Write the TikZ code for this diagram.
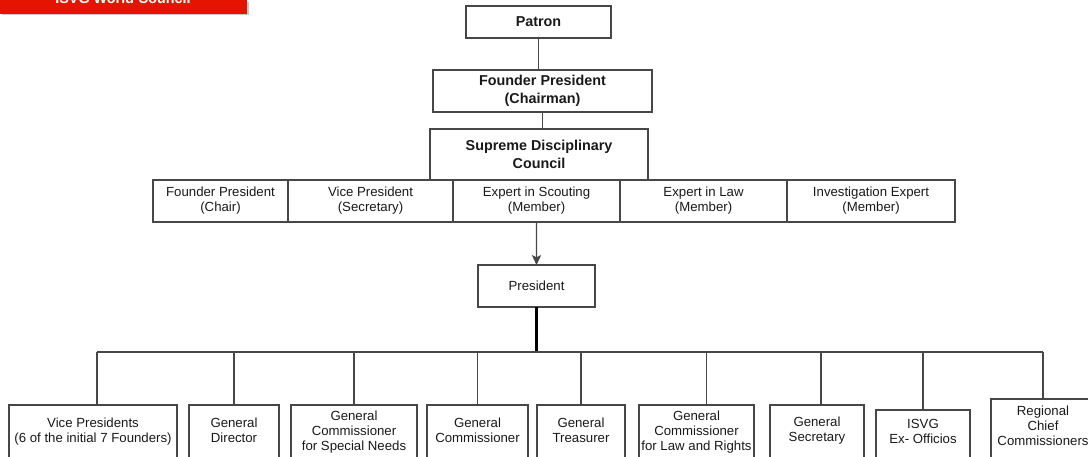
\documentclass[tikz,border=0pt]{standalone}
\usepackage{fontspec}
\setmainfont{Liberation Sans}
\usetikzlibrary{arrows.meta}
\definecolor{banner}{HTML}{E51400}
\definecolor{edge}{HTML}{474747}

\begin{document}
\begin{tikzpicture}[x=0.025cm,y=-0.025cm]

\tikzstyle{post}=[draw=edge,line width=0.8pt,inner sep=1pt,outer sep=0pt,align=center,anchor=north west,text=black!90,font=\fontsize{9.4}{10.7}\selectfont]
\tikzstyle{head}=[post,font=\fontsize{10.2}{12.8}\selectfont\bfseries]
\tikzstyle{link}=[draw=edge,line width=0.8pt]

% FRAME
\useasboundingbox (0,0) rectangle (1088,457);

% BANNER
\fill [gray!45] (2,2) rectangle (249,15);
\node (banner) [fill=banner,anchor=north west,minimum width=6.175cm,minimum height=0.35cm,inner sep=0pt,outer sep=0pt] at (0,0) {};
\node (title) [anchor=base,text=white,font=\fontsize{10.2}{12}\selectfont\bfseries] at (123,4) {ISVG World Council};

% TOP
\node (patron) [head,minimum width=3.625cm,minimum height=0.8cm] at (466,6) {Patron};
\node (founder) [head,minimum width=5.475cm,minimum height=1.05cm] at (433,70) {Founder President\\(Chairman)};
\node (supreme) [head,minimum width=5.45cm,minimum height=1.275cm] at (430,129) {Supreme Disciplinary\\Council};

% COUNCIL ROW
\node (chair) [post,minimum width=3.375cm,minimum height=1.05cm] at (153,180) {Founder President\\(Chair)};
\node (secretary) [post,minimum width=4.125cm,minimum height=1.05cm] at (288,180) {Vice President\\(Secretary)};
\node (scouting) [post,minimum width=4.175cm,minimum height=1.05cm] at (453,180) {Expert in Scouting\\(Member)};
\node (law) [post,minimum width=4.175cm,minimum height=1.05cm] at (620,180) {Expert in Law\\(Member)};
\node (investigation) [post,minimum width=4.2cm,minimum height=1.05cm] at (787,180) {Investigation Expert\\(Member)};

% PRESIDENT
\node (president) [post,minimum width=2.925cm,minimum height=1.05cm] at (478,265) {President};

% DEPARTMENTS (boxes run on below the frame)
\node (vice) [post,minimum width=4.2cm,minimum height=1.45cm,text depth=5pt] at (9,405) {Vice Presidents\\(6 of the initial 7 Founders)};
\node (director) [post,minimum width=2.25cm,minimum height=1.45cm,text depth=5pt] at (189,405) {General\\Director};
\node (special) [post,minimum width=3.15cm,minimum height=1.45cm,text depth=5pt] at (291,405) {General\\Commissioner\\for Special Needs};
\node (commissioner) [post,minimum width=2.525cm,minimum height=1.45cm,text depth=5pt] at (427,405) {General\\Commissioner};
\node (treasurer) [post,minimum width=2.2cm,minimum height=1.45cm,text depth=5pt] at (537,405) {General\\Treasurer};
\node (rights) [post,minimum width=2.875cm,minimum height=1.45cm,text depth=5pt] at (639,405) {General\\Commissioner\\for Law and Rights};
\node (gensec) [post,minimum width=2.35cm,minimum height=1.45cm,text depth=7pt] at (770,405) {General\\Secretary};
\node (officios) [post,minimum width=2.35cm,minimum height=1.35cm,text depth=8pt] at (876,410) {ISVG\\Ex- Officios};
\node (regional) [post,minimum width=2.6cm,minimum height=1.6cm,text depth=8pt] at (991,399) {Regional\\Chief\\Commissioners};

% LINKS
\draw [link] (patron.south) -- (patron.south |- founder.north);
\draw [link] (founder.south) -- (founder.south |- supreme.north);
\draw [link,-{Stealth[length=7pt,width=6.5pt,inset=1.5pt]}] (scouting.south) -- (president.north);

\coordinate (hub) at (538,352);
\draw [line width=1.6pt] (president.south) -- (president.south |- hub);
\draw [link] ([xshift=0.1cm]vice.north |- hub) -- (regional.north |- hub);
\foreach \n in {director,special,commissioner,treasurer,officios,regional}
  \draw [link] (\n.north |- hub) -- (\n.north);
\draw [link] ([xshift=0.1cm]vice.north |- hub) -- ([xshift=0.1cm]vice.north);
\draw [link] ([xshift=0.26cm]rights.north |- hub) -- ([xshift=0.26cm]rights.north);
\draw [link] ([xshift=0.1cm]gensec.north |- hub) -- ([xshift=0.1cm]gensec.north);

\end{tikzpicture}
\end{document}
